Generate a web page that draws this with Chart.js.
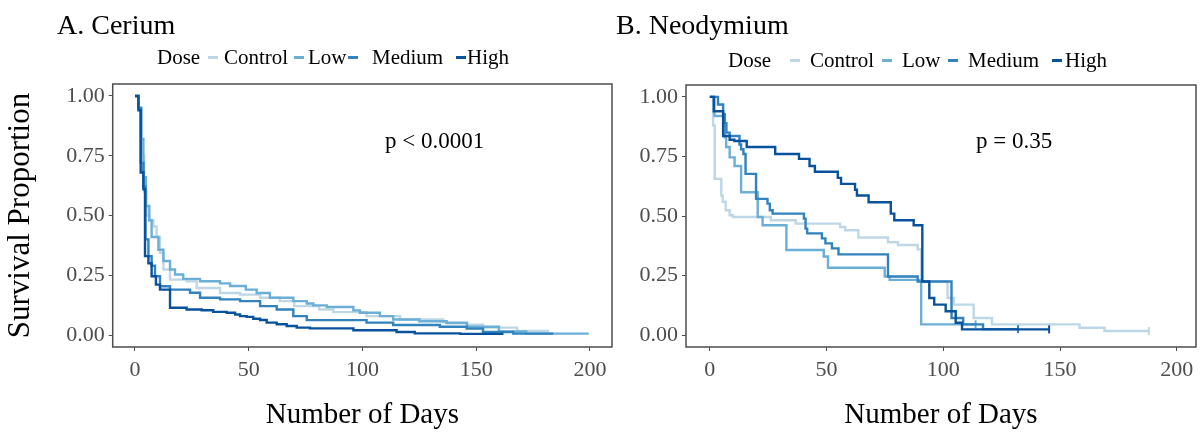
<!DOCTYPE html>
<html>
<head>
<meta charset="utf-8">
<script src="https://cdn.jsdelivr.net/npm/chart.js@4.4.1/dist/chart.umd.min.js"></script>
<style>
body { margin: 0; background: #fff; }
#wrap { position: relative; width: 1202px; height: 436px; overflow: hidden; font-family: "Liberation Serif", "Times New Roman", serif; }
#wrap canvas { position: absolute; top: 0; }
.txt { position: absolute; white-space: nowrap; line-height: 1; color: #000; }
.title { font-size: 28px; top: 10.5px; }
.leg { font-size: 21px; }
.pval { font-size: 23px; top: 128.7px; }
.key { position: absolute; width: 10px; height: 3px; }
</style>
</head>
<body>
<div id="wrap">
	<canvas id="ceriumChart" width="615" height="436" style="left:0"></canvas>
	<canvas id="neodymiumChart" width="587" height="436" style="left:615px"></canvas>

	<div class="txt title" style="left:57px">A. Cerium</div>
	<div class="txt title" style="left:616px">B. Neodymium</div>

	<div class="txt leg" style="left:157px;top:47.4px">Dose</div>
	<div class="key" style="left:208px;top:56px;background:#bdd7e7"></div>
	<div class="txt leg" style="left:224px;top:47.4px">Control</div>
	<div class="key" style="left:294px;top:56px;background:#6baed6"></div>
	<div class="txt leg" style="left:308px;top:47.4px">Low</div>
	<div class="key" style="left:348px;top:56px;background:#3182bd"></div>
	<div class="txt leg" style="left:372px;top:47.4px">Medium</div>
	<div class="key" style="left:456px;top:56px;background:#08519c"></div>
	<div class="txt leg" style="left:467px;top:47.4px">High</div>

	<div class="txt leg" style="left:728px;top:50.4px">Dose</div>
	<div class="key" style="left:790px;top:58.5px;background:#bdd7e7"></div>
	<div class="txt leg" style="left:810px;top:50.4px">Control</div>
	<div class="key" style="left:882px;top:58.5px;background:#6baed6"></div>
	<div class="txt leg" style="left:902px;top:50.4px">Low</div>
	<div class="key" style="left:948px;top:58.5px;background:#3182bd"></div>
	<div class="txt leg" style="left:968px;top:50.4px">Medium</div>
	<div class="key" style="left:1052px;top:58.5px;background:#08519c"></div>
	<div class="txt leg" style="left:1065px;top:50.4px">High</div>

	<div class="txt pval" style="left:385px">p &lt; 0.0001</div>
	<div class="txt pval" style="left:976px">p = 0.35</div>
</div>

<script>
// tick labels
var X_TICKS = [0, 50, 100, 150, 200];
var Y_TICKS = [0, 0.25, 0.5, 0.75, 1];

// A. Cerium - days / survival proportion
var ceControlT = [0, 1.5, 3, 4, 5, 6.3, 8.1, 9.5, 11, 12.5, 15.4, 22.7, 27.1, 37.4, 46.2, 55, 63.7, 70, 81, 87.2, 101.8, 116.5, 135.5, 145.8, 153, 168, 182];
var ceControlS = [1, 0.95, 0.75, 0.6, 0.5, 0.48, 0.454, 0.41, 0.343, 0.274, 0.232, 0.225, 0.197, 0.176, 0.169, 0.156, 0.142, 0.121, 0.107, 0.096, 0.079, 0.065, 0.054, 0.043, 0.031, 0.017, 0.017];

var ceLowT = [0, 1.5, 2.8, 3.7, 4.8, 6.3, 7.3, 10.3, 12.5, 15.4, 17.6, 21.2, 28.6, 37.4, 41.8, 48.7, 53.5, 59.3, 69.6, 75.5, 78.4, 84.3, 96, 98.9, 107.7, 113.5, 125, 137, 146, 160, 172, 199.5];
var ceLowS = [1, 0.95, 0.82, 0.66, 0.54, 0.48, 0.41, 0.357, 0.31, 0.274, 0.253, 0.235, 0.225, 0.216, 0.205, 0.19, 0.176, 0.156, 0.142, 0.132, 0.124, 0.117, 0.103, 0.093, 0.079, 0.065, 0.058, 0.05, 0.035, 0.015, 0.006, 0.006];

var ceMediumT = [0, 1.5, 2.5, 3.7, 4.6, 5.9, 7.3, 8.8, 11, 15.4, 24.2, 28.6, 37.4, 46.2, 55, 62.3, 69.6, 75.5, 101.8, 113.5, 134, 145.8, 153, 166.3, 183.9];
var ceMediumS = [1, 0.95, 0.72, 0.62, 0.40, 0.33, 0.29, 0.246, 0.204, 0.19, 0.177, 0.156, 0.149, 0.142, 0.121, 0.107, 0.079, 0.0625, 0.052, 0.042, 0.035, 0.027, 0.0125, 0.006, 0.006];

var ceHighT = [0, 1.5, 2.5, 3.7, 4.4, 5.9, 7.3, 9.2, 11, 15.4, 22.7, 29.3, 34.4, 40.3, 44, 46.2, 49.1, 52, 55, 57.9, 62.3, 66.7, 71.1, 76.9, 96, 115, 123, 143, 162];
var ceHighS = [1, 0.94, 0.68, 0.61, 0.33, 0.30, 0.246, 0.211, 0.19, 0.114, 0.107, 0.104, 0.097, 0.093, 0.086, 0.079, 0.076, 0.068, 0.063, 0.052, 0.045, 0.038, 0.031, 0.028, 0.02, 0.0125, 0.007, 0.005, 0.005];

// B. Neodymium
var ndControlT = [0, 1.4, 2.1, 4.9, 5.5, 6.8, 8.5, 9.9, 26.1, 36.8, 55.8, 58, 63.6, 76.3, 80.6, 89, 90.5, 101.8, 104.5, 113, 120.8, 158.3, 169, 188];
var ndControlS = [1, 0.88, 0.656, 0.586, 0.56, 0.524, 0.503, 0.496, 0.482, 0.468, 0.454, 0.44, 0.41, 0.39, 0.378, 0.36, 0.225, 0.156, 0.128, 0.072, 0.045, 0.031, 0.017, 0.017];

var ndLowT = [0, 2, 6.4, 7, 8.5, 10.6, 13.4, 20.5, 22.6, 32.8, 48.8, 50.6, 74.9, 77, 90.5, 113.8];
var ndLowS = [1, 0.92, 0.83, 0.79, 0.746, 0.71, 0.6, 0.496, 0.461, 0.357, 0.33, 0.283, 0.246, 0.232, 0.045, 0.045];

var ndMediumT = [0, 3.5, 5.7, 6.4, 7.1, 8.5, 12.7, 13.4, 14.4, 15.3, 19.8, 24.7, 25.7, 26.9, 40.3, 41, 41.7, 48, 49.5, 52.3, 55.1, 76.3, 89, 103.5, 108.5, 117, 132];
var ndMediumS = [1, 0.968, 0.927, 0.89, 0.85, 0.836, 0.80, 0.78, 0.76, 0.677, 0.572, 0.552, 0.524, 0.51, 0.489, 0.447, 0.427, 0.406, 0.385, 0.364, 0.339, 0.246, 0.225, 0.072, 0.045, 0.025, 0.025];

var ndHighT = [0, 1.7, 5.7, 8.5, 10.5, 15.8, 28, 38.2, 42.7, 45, 54.8, 56.2, 62.2, 63, 68, 77.5, 79, 87.3, 91, 94, 96.1, 101, 105.3, 108, 145.3];
var ndHighS = [1, 0.94, 0.836, 0.82, 0.815, 0.79, 0.76, 0.74, 0.71, 0.686, 0.66, 0.635, 0.61, 0.586, 0.558, 0.51, 0.482, 0.461, 0.225, 0.156, 0.128, 0.1, 0.052, 0.024, 0.024];

var DOSES = ['Control', 'Low', 'Medium', 'High'];
var COLORS = ['#bdd7e7', '#6baed6', '#3182bd', '#08519c'];
var FONT = 'Liberation Serif';

// box round the plot area
var framePlugin = {
	id: 'frame',
	afterDatasetsDraw: function(chart) {
		var a = chart.chartArea, ctx = chart.ctx;
		ctx.save();
		ctx.strokeStyle = '#4d4d4d';
		ctx.lineWidth = 1.5;
		ctx.strokeRect(a.left, a.top, a.right - a.left, a.bottom - a.top);
		ctx.restore();
	}
};

function toPoints(t, s) {
	return t.map(function(v, i) { return {x: v, y: s[i]}; });
}

function createDataset(i, t, s, censor) {
	var last = t.length - 1;
	return {
		label: DOSES[i],
		data: toPoints(t, s),
		borderColor: COLORS[i],
		backgroundColor: COLORS[i],
		borderWidth: 2.4,
		stepped: true,
		fill: false,
		order: 4 - i,
		pointStyle: 'line',
		rotation: 90,
		pointBorderWidth: 2,
		pointBorderColor: COLORS[i],
		pointRadius: function(ctx) { return censor && ctx.dataIndex === last ? 4 : 0; }
	};
}

function buildPanel(id, series, p) {
	var ctx = document.getElementById(id).getContext('2d');
	return new Chart(ctx, {
		type: 'line',
		data: {
			datasets: series.map(function(ser, i) { return createDataset(i, ser[0], ser[1], p.censor); })
		},
		plugins: [framePlugin],
		options: {
			responsive: false,
			animation: false,
			events: [],
			layout: { padding: { left: 0, right: p.padRight, top: p.top, bottom: 0 } },
			plugins: { legend: { display: false }, tooltip: { enabled: false } },
			scales: {
				x: {
					type: 'linear',
					min: p.xMin,
					max: p.xMax,
					afterBuildTicks: function(s) { s.ticks = X_TICKS.map(function(v) { return {value: v}; }); },
					afterFit: function(s) { s.height = 89; },
					grid: { display: true, drawOnChartArea: false, drawTicks: true, tickLength: 4, color: '#4d4d4d' },
					border: { display: false },
					ticks: { font: { family: FONT, size: 22 }, color: '#4d4d4d', padding: 6, maxRotation: 0, autoSkip: false },
					title: { display: true, text: 'Number of Days', color: '#000', font: { family: FONT, size: 29 }, padding: { top: 0, bottom: 3 } }
				},
				y: {
					type: 'linear',
					min: -0.05,
					max: 1.05,
					afterBuildTicks: function(s) { s.ticks = Y_TICKS.map(function(v) { return {value: v}; }); },
					afterFit: function(s) { s.width = p.yWidth; },
					grid: { display: true, drawOnChartArea: false, drawTicks: true, tickLength: 4, color: '#4d4d4d' },
					border: { display: false },
					ticks: { font: { family: FONT, size: 22 }, color: '#4d4d4d', padding: 4, callback: function(v) { return v.toFixed(2); } },
					title: { display: p.yTitle, text: 'Survival Proportion', color: '#000', font: { family: FONT, size: 31 }, padding: { top: 2, bottom: 0 } }
				}
			}
		}
	});
}

buildPanel('ceriumChart', [[ceControlT, ceControlS], [ceLowT, ceLowS], [ceMediumT, ceMediumS], [ceHighT, ceHighS]],
	{ xMin: -9.8, xMax: 209.7, yWidth: 112.7, padRight: 3, top: 84, yTitle: true, censor: false });

buildPanel('neodymiumChart', [[ndControlT, ndControlS], [ndLowT, ndLowS], [ndMediumT, ndMediumS], [ndHighT, ndHighS]],
	{ xMin: -10.2, xMax: 208.2, yWidth: 71, padRight: 1, top: 85, yTitle: false, censor: true });
</script>
</body>
</html>
